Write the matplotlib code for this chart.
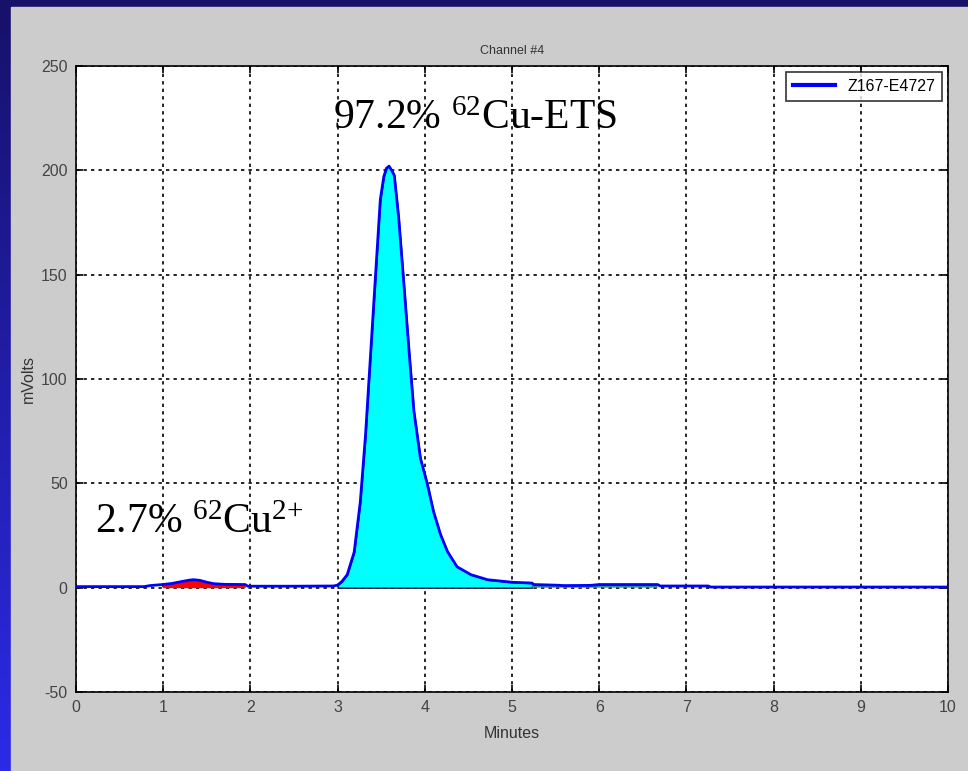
import numpy as np
import matplotlib
matplotlib.use("Agg")
import matplotlib.pyplot as plt
from matplotlib.colors import LinearSegmentedColormap
from matplotlib.patches import Rectangle

plt.rcParams['font.family'] = ['Liberation Sans', 'DejaVu Sans']
plt.rcParams['mathtext.fontset'] = 'custom'
plt.rcParams['mathtext.rm'] = 'Liberation Serif'
plt.rcParams['mathtext.default'] = 'rm'
plt.rcParams['axes.unicode_minus'] = False

# chromatogram trace (minutes, mV)
time = [0.0, 0.78, 0.85, 0.99, 1.10, 1.22, 1.30, 1.35, 1.42, 1.50, 1.58, 1.70,
        1.94, 1.97, 2.5, 2.95, 3.00, 3.05, 3.11, 3.19, 3.26, 3.32, 3.38, 3.44,
        3.49, 3.53, 3.56, 3.59, 3.62, 3.65, 3.70, 3.76, 3.82, 3.875, 3.95, 4.03,
        4.10, 4.18, 4.26, 4.37, 4.53, 4.72, 5.0, 5.23, 5.25, 5.5, 5.6, 5.9, 6.0,
        6.67, 6.70, 7.25, 7.28, 10.0]
mvolts = [0.5, 0.5, 1.0, 1.5, 2.0, 3.0, 3.6, 3.8, 3.5, 2.6, 1.9, 1.6,
          1.5, 0.7, 0.7, 0.8, 1.2, 3.0, 6.2, 17, 41, 73, 113, 153,
          186, 197, 201, 202, 200, 197.6, 177.5, 145.6, 113, 84.6, 62, 49.5,
          36.5, 25.5, 17.3, 10, 6.2, 3.8, 2.6, 2.2, 1.5, 1.2, 1.0, 1.1, 1.5,
          1.5, 0.8, 0.8, 0.3, 0.3]

# integrated peak windows
cu_free = (0.99, 1.94)
cu_ets = (3.0, 5.23)
tail = (5.23, 6.67)

series_name = "Z167-E4727"
x_ticks = list(range(0, 11))
y_ticks = list(range(-50, 251, 50))

t = np.array(time)
v = np.array(mvolts)

fig = plt.figure(figsize=(9.68, 7.71), dpi=100)

# slide background: blue gradient with a grey panel
bg = fig.add_axes([0, 0, 1, 1], zorder=-10)
grad = np.linspace(0, 1, 256).reshape(-1, 1)
cmap = LinearSegmentedColormap.from_list("slide", ["#2c2ae8", "#17116a"])
bg.imshow(grad, extent=[0, 1, 0, 1], aspect='auto', cmap=cmap, origin='lower')
bg.add_patch(Rectangle((11 / 968, 0), 1, (771 - 7) / 771, color='#cccccc'))
bg.set_xlim(0, 1)
bg.set_ylim(0, 1)
bg.axis('off')

ax = fig.add_axes([76 / 968, 79 / 771, 872 / 968, 626 / 771])
ax.set_facecolor('white')

m = (t >= cu_free[0]) & (t <= cu_free[1])
ax.fill_between(t, v, 0, where=m, color='#ff0000', lw=0, zorder=2)
m = (t >= cu_ets[0]) & (t <= cu_ets[1])
ax.fill_between(t, v, 0, where=m, facecolor='#00ffff', edgecolor='#101040',
                lw=1.0, zorder=2)
m = (t >= tail[0]) & (t <= tail[1])
ax.fill_between(t, v, 0, where=m, facecolor='#2a8f8f', lw=0, zorder=2)

ax.plot(t, v, color='#0000ff', lw=2.0, label=series_name, zorder=3,
        solid_joinstyle='round')

ax.set_xlim(0, 10)
ax.set_ylim(-50, 250)
ax.set_xticks(x_ticks)
ax.set_yticks(y_ticks)
ax.grid(True, color='black', linestyle=(0, (2, 2.5)), linewidth=1.2)
ax.set_axisbelow(True)
for s in ax.spines.values():
    s.set_linewidth(1.2)
ax.tick_params(direction='in', length=5, width=1.2, top=True, right=True,
               labelsize=11.5, labelcolor='#444444', pad=6)

ax.set_title("Channel #4", fontsize=9, color='#333333', pad=9)
ax.set_xlabel("Minutes", fontsize=11.5, color='#333333', labelpad=8)
ax.set_ylabel("mVolts", fontsize=11.5, color='#333333', labelpad=4)

leg = ax.legend(loc='upper right', fontsize=11.5, frameon=True, fancybox=False,
                handlelength=2.6, borderaxespad=0.35, borderpad=0.45)
leg.get_frame().set_edgecolor('black')
leg.get_frame().set_linewidth(1.2)
for line in leg.get_lines():
    line.set_linewidth(3)

ax.text(2.95, 220, r"97.2% $^{62}$Cu-ETS", fontsize=30,
        family='Liberation Serif', color='black', zorder=5)
ax.text(0.22, 26, r"2.7% $^{62}$Cu$^{2{+}}$", fontsize=30,
        family='Liberation Serif', color='black', zorder=5)

fig.savefig("out.png", dpi=100)
